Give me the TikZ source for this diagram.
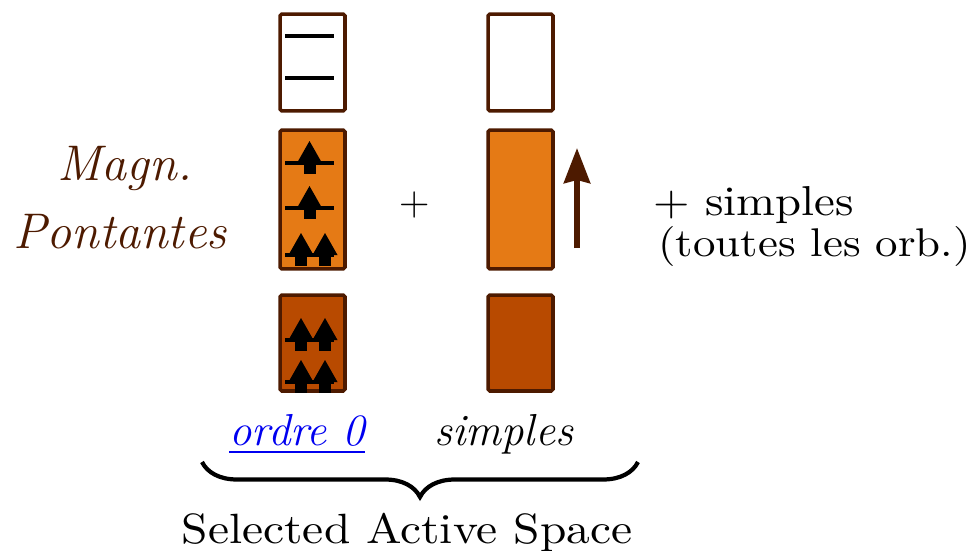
\documentclass[tikz,border=0pt]{standalone}
\usepackage{tikz}
\usetikzlibrary{arrows.meta, decorations.pathreplacing, positioning}
\usepackage{xcolor}
\usepackage{fontspec}
\newfontfamily\widefont{lmroman10-regular.otf}[FakeStretch=1.12]
\definecolor{darkbrown}{HTML}{4D1A00}
\definecolor{orbmid}{HTML}{E57A15}
\definecolor{orbcore}{HTML}{B84A00}
\definecolor{linkblue}{HTML}{0000F0}

\tikzset{
  upel/.pic={
    \fill (-12.5,0) -- (0,-22) -- (12.5,0) -- cycle;
    \fill (-6,0) rectangle (6,11);
  }
}

\begin{document}
\begin{tikzpicture}[x=0.02cm, y=-0.02cm,
    orb/.style={draw=darkbrown, line width=2pt, rounded corners=1pt, minimum width=1.3cm, inner sep=0pt},
    virt/.style={orb, fill=white, minimum height=1.94cm},
    activ/.style={orb, fill=orbmid, minimum height=2.78cm},
    core/.style={orb, fill=orbcore, minimum height=1.92cm},
    level/.style={line width=2.2pt},
    txt/.style={inner sep=0pt, font=\fontsize{24}{29}\selectfont},
    wide/.style={inner sep=0pt, font=\fontsize{#1}{29}\selectfont\widefont},
    ital/.style={inner sep=0pt, font=\fontsize{#1}{30}\selectfont\itshape}]
  \useasboundingbox (0,0) rectangle (971,551);

  % orbitales
  \node[virt]  (virtA)  at (312.5,62.5) {};
  \node[activ] (activA) at (312.5,199.5) {};
  \node[core]  (coreA)  at (312.5,343) {};
  \node[virt]  (virtB)  at (520.5,62.5) {};
  \node[activ] (activB) at (520.5,199.5) {};
  \node[core]  (coreB)  at (520.5,343) {};

  % niveaux et electrons
  \foreach \y in {36,78,163,208,255,340,382}{
    \draw[level] (285,\y) -- (334,\y);
  }
  \foreach \y in {163,208}{
    \pic at (309.5,\y) {upel};
  }
  \foreach \y in {255,340,382}{
    \pic at (301,\y) {upel};
    \pic at (325,\y) {upel};
  }

  % spin
  \coordinate (spintail) at (577,248);
  \coordinate (spintip) at (577,148);
  \draw[darkbrown, line width=3.4pt, -{Stealth[length=0.7cm, width=0.52cm, inset=0.06cm]}] (spintail) -- (spintip);

  % textes
  \node[ital=28.5, darkbrown, anchor=base] (magn) at (125,180) {Magn.};
  \node[ital=28.5, darkbrown, anchor=base] (pont) at (120,248) {Pontantes};
  \node[txt] (plus) at (415,205) {+};
  \node[wide=23.8, anchor=base west] (plussimp) at (653,215) {+ simples};
  \node[wide=22.8, anchor=base west] (toutes) at (658,256) {(toutes les orb.)};
  \node[ital=25.5, anchor=base west, linkblue] (ordre) at (229,445) {ordre 0};
  \draw[linkblue, line width=1.6pt] ([yshift=-4pt]ordre.base west) -- ([yshift=-4pt]ordre.base east);
  \node[ital=25.5, anchor=base west] (simp) at (434,445) {simples};

  % accolade
  \coordinate (braceL) at (202,462);
  \coordinate (braceR) at (638,462);
  \draw[line width=2.4pt, decorate, decoration={brace, mirror, amplitude=0.7cm}] (braceL) -- (braceR);
  \node[wide=24.1, anchor=base] (sas) at (407,543) {Selected Active Space};
\end{tikzpicture}
\end{document}
